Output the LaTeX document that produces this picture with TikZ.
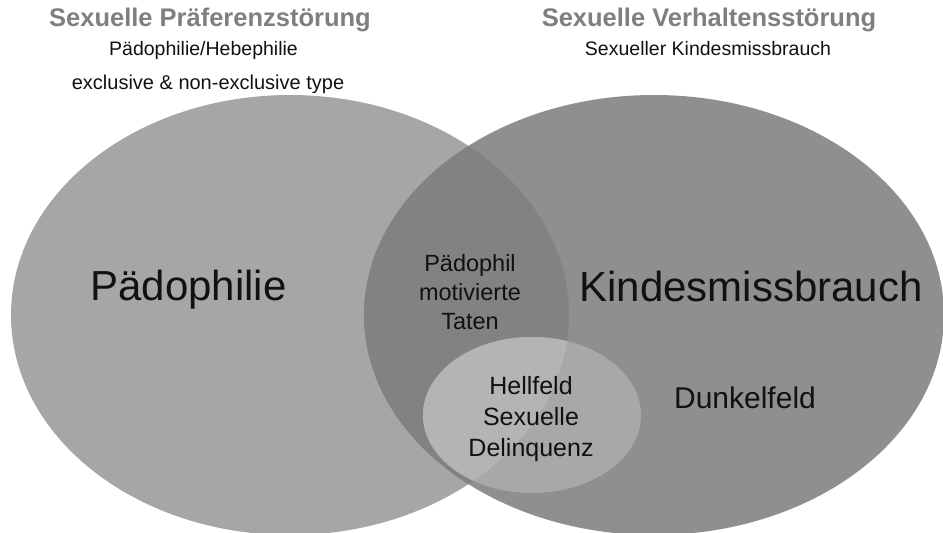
\documentclass[tikz,border=0pt]{standalone}
\usepackage{fontspec}
\setmainfont{Liberation Sans}
\usetikzlibrary{positioning}
\definecolor{leftgray}{HTML}{A6A6A6}
\definecolor{rightgray}{HTML}{8F8F8F}
\definecolor{bothgray}{HTML}{828282}
\definecolor{hellgray}{HTML}{A8A8A8}
\definecolor{hellboth}{HTML}{B4B4B4}
\definecolor{headgray}{HTML}{7F7F7F}
\definecolor{textblack}{HTML}{111111}

\begin{document}
\begin{tikzpicture}[x=1pt,y=-1pt,
  heading/.style={font=\bfseries\fontsize{25.5}{30}\selectfont, text=headgray, inner sep=0pt, anchor=base},
  subline/.style={font=\fontsize{19.5}{24}\selectfont, text=textblack, inner sep=0pt, anchor=base},
  biglabel/.style={font=\fontsize{42}{50}\selectfont, text=textblack, inner sep=0pt, anchor=base},
  midlabel/.style={text=textblack, inner sep=0pt, align=center, anchor=center}]
\useasboundingbox (0,0) rectangle (943,533);

% the three sets
\fill [leftgray] (290,315) ellipse [x radius=279, y radius=220];
\fill [rightgray] (654,315) ellipse [x radius=290, y radius=220];
\begin{scope}
  \clip (290,315) ellipse [x radius=279, y radius=220];
  \fill [bothgray] (654,315) ellipse [x radius=290, y radius=220];
\end{scope}
\fill [hellgray] (532,415) ellipse [x radius=109, y radius=78];
\begin{scope}
  \clip (290,315) ellipse [x radius=279, y radius=220];
  \fill [hellboth] (532,415) ellipse [x radius=109, y radius=78];
\end{scope}

% headings
\node [heading] (praef) at (210,26) {Sexuelle Präferenzstörung};
\node [subline] (paedheb) at (203.5,55) {Pädophilie/Hebephilie};
\node [subline, font=\fontsize{20}{24}\selectfont] (typ) at (208,89) {exclusive \& non-exclusive type};
\node [heading] (verh) at (709,26) {Sexuelle Verhaltensstörung};
\node [subline] (kmiss) at (708,55) {Sexueller Kindesmissbrauch};

% labels in the sets
\node [biglabel] (paed) at (188.5,300) {Pädophilie};
\node [biglabel] (kind) at (751,301) {Kindesmissbrauch};
\node [midlabel, font=\fontsize{23.5}{29}\selectfont] (taten) at (470,292.5) {Pädophil\\motivierte\\Taten};
\node [midlabel, font=\fontsize{25}{31}\selectfont] (hell) at (531,419.5) {Hellfeld\\Sexuelle\\Delinquenz};
\node [biglabel, font=\fontsize{30}{36}\selectfont] (dunkel) at (745,408) {Dunkelfeld};
\end{tikzpicture}
\end{document}
